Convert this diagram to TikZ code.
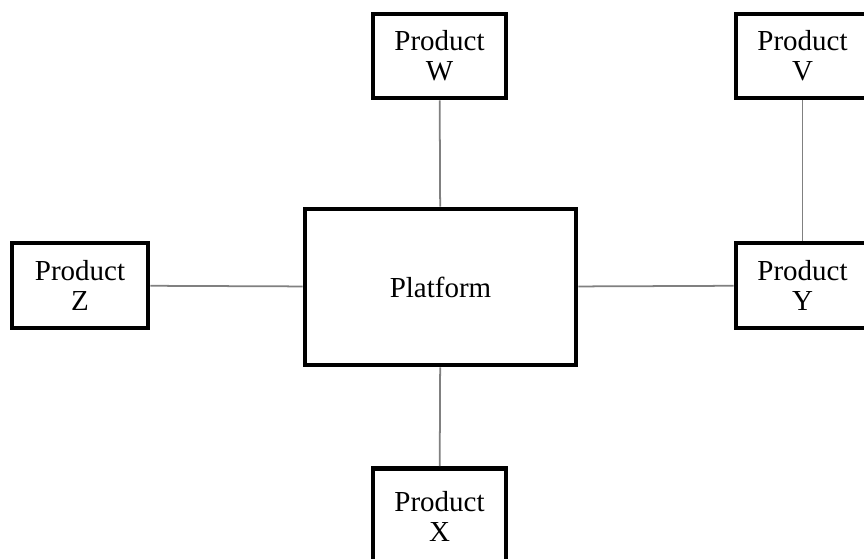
\documentclass[tikz,border=0pt]{standalone}
\usepackage{fontspec}
\setmainfont{Liberation Serif}
\usetikzlibrary{positioning}
\definecolor{linkgray}{RGB}{128,128,128}

\begin{document}
\begin{tikzpicture}[x=0.02cm,y=-0.02cm,
  prodbox/.style={draw,line width=2.7pt,fill=white,align=center,minimum width=2.66cm,minimum height=1.68cm,inner sep=0pt,font=\fontsize{16.5}{17}\selectfont},
  platbox/.style={prodbox,minimum width=5.42cm,minimum height=3.12cm},
  link/.style={draw=linkgray,line width=1pt}]
\useasboundingbox (0,0) rectangle (864,558);
\clip (0,0) rectangle (864,558);
\node[platbox] (plat) at (440.5,287) {Platform};
\node[prodbox] (prodW) at (439.5,56) {Product\\W};
\node[prodbox] (prodV) at (802.5,56) {Product\\V};
\node[prodbox,minimum width=2.72cm,minimum height=1.7cm] (prodZ) at (80,285.5) {Product\\Z};
\node[prodbox,minimum height=1.7cm] (prodY) at (802.5,285.5) {Product\\Y};
\node[prodbox,minimum height=1.9cm] (prodX) at (439.5,516) {Product\\X};
\draw[link] (prodW) -- (plat);
\draw[link] (prodZ) -- (plat);
\draw[link] (plat) -- (prodY);
\draw[link] (prodV) -- (prodY);
\draw[link] (plat) -- (prodX);
\end{tikzpicture}
\end{document}
